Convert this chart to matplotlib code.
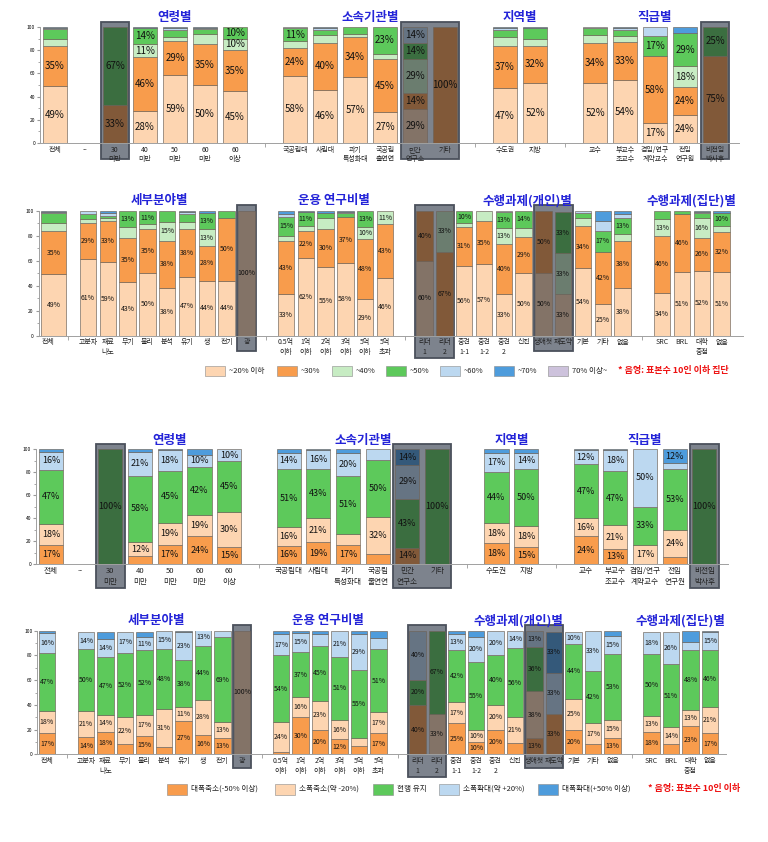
import numpy as np
import matplotlib.pyplot as plt
from matplotlib.patches import Rectangle
from matplotlib.colors import to_rgb

plt.rcParams['font.family'] = ['Noto Sans CJK KR', 'DejaVu Sans']

W, H = 768, 842

# ---------------- categories ----------------
group_labels = ['전체', '--', '30\n미만', '40\n미만', '50\n미만', '60\n미만', '60\n이상', '',
                '국공립대', '사립대', '과기\n특성화대', '국공립\n출연연', '민간\n연구소', '기타', '',
                '수도권', '지방', '', '교수', '부교수\n조교수', '겸임/연구\n계약교수', '전임\n연구원', '비전임\n박사후']
field_labels = ['전체', '', '고분자', '재료\n나노', '무기', '물리', '분석', '유기', '생', '전기', '광', '',
                '0.5억\n이하', '1억\n이하', '2억\n이하', '3억\n이하', '5억\n이하', '5억\n초과', '',
                '리더\n1', '리더\n2', '중견\n1-1', '중견\n1-2', '중견\n2', '신진', '생애첫', '재도약',
                '기본', '기타', '없음', '', 'SRC', 'BRL', '대학\n중점', '없음']

top_names = ['~20% 이하', '~30%', '~40%', '~50%', '~60%', '~70%', '70% 이상~']
bot_names = ['대폭축소(-50% 이상)', '소폭축소(약 -20%)', '현행 유지', '소폭확대(약 +20%)', '대폭확대(+50% 이상)']

# ---------------- row 1 : 비율 분포 (그룹별) ----------------
r1_20 = [49, 0, 0, 28, 59, 50, 45, 0, 58, 46, 57, 27, 29, 0, 0, 47, 52, 0, 52, 54, 17, 24, 0]
r1_30 = [35, 0, 33, 46, 29, 35, 35, 0, 24, 40, 34, 45, 14, 100, 0, 37, 32, 0, 34, 33, 58, 24, 75]
r1_40 = [6, 0, 0, 11, 3, 9, 10, 0, 6, 7, 3, 5, 29, 0, 0, 7, 6, 0, 7, 5, 0, 18, 0]
r1_50 = [8, 0, 67, 14, 6, 4, 10, 0, 11, 4, 6, 23, 14, 0, 0, 6, 9, 0, 6, 5, 17, 29, 25]
r1_60 = [1, 0, 0, 0, 2, 1, 0, 0, 1, 2, 0, 0, 14, 0, 0, 2, 0, 0, 1, 2, 8, 0, 0]
r1_70 = [1, 0, 0, 1, 1, 1, 0, 0, 0, 1, 0, 0, 0, 0, 0, 1, 1, 0, 0, 1, 0, 5, 0]
r1_70p = [0] * 23

# ---------------- row 2 : 비율 분포 (분야/과제별) ----------------
r2_20 = [49, 0, 61, 59, 43, 50, 38, 47, 44, 44, 100, 0, 33, 62, 55, 58, 29, 46, 0,
         60, 0, 56, 57, 33, 50, 50, 33, 54, 25, 38, 0, 34, 51, 52, 51]
r2_30 = [35, 0, 29, 33, 35, 35, 38, 38, 28, 50, 0, 0, 43, 22, 30, 37, 48, 43, 0,
         40, 67, 31, 35, 40, 29, 50, 0, 34, 42, 38, 0, 46, 46, 26, 32]
r2_40 = [6, 0, 3, 2, 9, 4, 15, 6, 13, 0, 0, 0, 4, 4, 9, 0, 10, 11, 0,
         0, 33, 3, 8, 13, 7, 0, 33, 6, 0, 5, 0, 13, 0, 16, 5]
r2_50 = [8, 0, 4, 2, 13, 11, 9, 6, 13, 6, 0, 0, 15, 11, 4, 3, 13, 0, 0,
         0, 0, 10, 0, 13, 14, 0, 33, 4, 17, 13, 0, 7, 3, 4, 10]
r2_60 = [1, 0, 3, 2, 0, 0, 0, 2, 0, 0, 0, 0, 2, 0, 0, 1, 0, 0, 0,
         0, 0, 0, 0, 1, 0, 0, 0, 2, 8, 3, 0, 0, 0, 1, 0]
r2_70 = [1, 0, 0, 2, 0, 0, 0, 1, 2, 0, 0, 0, 3, 1, 2, 1, 0, 0, 0,
         0, 0, 0, 0, 0, 0, 0, 0, 0, 8, 3, 0, 0, 0, 1, 2]
r2_70p = [0] * 35

# ---------------- row 3 : 증감 의견 (그룹별) ----------------
r3_dn50 = [17, 0, 0, 7, 17, 24, 15, 0, 16, 19, 17, 9, 14, 0, 0, 18, 15, 0, 24, 13, 0, 6, 0]
r3_dn20 = [18, 0, 0, 12, 19, 19, 30, 0, 16, 21, 9, 32, 0, 0, 0, 18, 18, 0, 16, 21, 17, 24, 0]
r3_keep = [47, 0, 100, 58, 45, 42, 45, 0, 51, 43, 51, 50, 43, 100, 0, 44, 50, 0, 47, 47, 33, 53, 100]
r3_up20 = [16, 0, 0, 21, 18, 10, 10, 0, 14, 16, 20, 9, 29, 0, 0, 17, 14, 0, 12, 18, 50, 5, 0]
r3_up50 = [2, 0, 0, 2, 1, 5, 0, 0, 3, 1, 3, 0, 14, 0, 0, 3, 3, 0, 1, 1, 0, 12, 0]

# ---------------- row 4 : 증감 의견 (분야/과제별) ----------------
r4_dn50 = [17, 0, 14, 18, 8, 15, 6, 27, 16, 13, 0, 0, 2, 30, 20, 12, 7, 17, 0,
           40, 0, 25, 10, 20, 9, 13, 33, 20, 8, 13, 0, 18, 8, 23, 17]
r4_dn20 = [18, 0, 21, 14, 22, 17, 31, 11, 28, 13, 100, 0, 24, 16, 23, 16, 6, 17, 0,
           0, 33, 17, 10, 20, 21, 38, 0, 25, 17, 15, 0, 13, 14, 13, 21]
r4_keep = [47, 0, 50, 47, 52, 52, 48, 38, 44, 69, 0, 0, 54, 37, 45, 51, 55, 51, 0,
           20, 67, 42, 55, 40, 56, 36, 0, 44, 42, 53, 0, 50, 51, 48, 46]
r4_up20 = [16, 0, 14, 14, 17, 11, 15, 23, 13, 5, 0, 0, 17, 15, 9, 21, 29, 9, 0,
           40, 0, 13, 20, 20, 14, 13, 33, 10, 33, 15, 0, 18, 26, 7, 15]
r4_up50 = [2, 0, 0, 6, 0, 4, 0, 1, 0, 0, 0, 0, 3, 2, 3, 0, 3, 6, 0,
           0, 0, 3, 5, 0, 0, 0, 33, 0, 0, 4, 0, 0, 0, 9, 1]

# 음영 (표본수 10인 이하)
group_shaded = [[2], [12, 13], [22]]
field_shaded = [[10], [19, 20], [25, 26]]

group_titles = [('연령별', 4), ('소속기관별', 10.5), ('지역별', 15.5), ('직급별', 20)]
field_titles = [('세부분야별', 5.6), ('운용 연구비별', 14.4), ('수행과제(개인)별', 24.2), ('수행과제(집단)별', 32.5)]

peach, orange, lgreen, green = '#fdd5b1', '#f89c4c', '#c7ecc3', '#5dc95b'
lblue, blue, lav = '#bcd8f0', '#4e9cdc', '#cdc2dc'
top_colors = [peach, orange, lgreen, green, lblue, blue, lav]
bot_colors = [orange, peach, green, lblue, blue]


def dark(c):
    r = np.array(to_rgb(c)) * 0.45 + np.array(to_rgb('#1f232a')) * 0.55
    return tuple(r)


fig = plt.figure(figsize=(W / 100, H / 100), dpi=100)


def panel(x0, step, y0, y100, labels, series, colors, shaded, titles,
          width, lab_fs, tick_fs, box_bot, first=None, right=0.3, lsp=1.25):
    n = len(labels)
    lo, hi = -0.5, n - 0.5 + right
    l, r = x0 + lo * step, x0 + hi * step
    ax = fig.add_axes([l / W, 1 - y0 / H, (r - l) / W, (y0 - y100) / H])
    ax.set_xlim(lo, hi)
    ax.set_ylim(0, 100)

    x = np.arange(n, dtype=float)
    w = np.full(n, width)
    if first:
        x[0], w[0] = first
    sh = {i for g in shaded for i in g}

    # 음영 박스
    for g in shaded:
        nl = max(labels[i].count('\n') + 1 for i in g)
        b = box_bot[nl]
        ax.add_patch(Rectangle((g[0] - 0.48, b), g[-1] - g[0] + 0.96, 104.5 - b,
                               facecolor='#7d838d', edgecolor='#4b515c', lw=1.3,
                               clip_on=False, zorder=1))

    bottom = np.zeros(n)
    for vals, c in zip(series, colors):
        vals = np.array(vals, float)
        idx = np.nonzero(vals)[0]
        cols = [dark(c) if i in sh else c for i in idx]
        ax.bar(x[idx], vals[idx], w[idx], bottom=bottom[idx], color=cols,
               edgecolor='#6d6258', linewidth=0.45, zorder=2)
        for i in idx:
            if vals[i] >= 10:
                ax.text(x[i], bottom[i] + vals[i] / 2, f'{vals[i]:.0f}%', ha='center', va='center',
                        fontsize=lab_fs, color='#111111', zorder=4)
        bottom += vals

    for t, xc in titles:
        ax.text(xc, 108, t, ha='center', va='center', fontsize=9, fontweight='bold',
                color='#2424d8', zorder=5, clip_on=False)

    major = [i for i, s in enumerate(labels) if s != '']
    ax.set_xticks(major, [labels[i] for i in major], fontsize=tick_fs, linespacing=lsp)
    ax.set_xticks([i for i, s in enumerate(labels) if s == ''], minor=True)
    ax.tick_params(axis='x', which='major', length=0, pad=2, colors='#222222')
    ax.tick_params(axis='x', which='minor', length=3, color='#999999')
    ax.set_yticks(range(0, 101, 20))
    ax.set_yticks(range(10, 100, 20), minor=True)
    ax.tick_params(axis='y', which='major', labelsize=3.5, length=2, pad=1.5, color='#999999')
    ax.tick_params(axis='y', which='minor', length=1.2, color='#999999')
    for s in ['top', 'right']:
        ax.spines[s].set_visible(False)
    for s in ['left', 'bottom']:
        ax.spines[s].set_color('#a0a0a0')
        ax.spines[s].set_linewidth(0.7)
    return ax


panel(55, 30, 143, 27, group_labels, [r1_20, r1_30, r1_40, r1_50, r1_60, r1_70, r1_70p],
      top_colors, group_shaded, group_titles, 0.8, 7, 5, {1: -12, 2: -14})
panel(48.4, 19.8, 335.7, 210.7, field_labels, [r2_20, r2_30, r2_40, r2_50, r2_60, r2_70, r2_70p],
      top_colors, field_shaded, field_titles, 0.83, 5, 5, {1: -12, 2: -18},
      first=(0.26, 1.26), right=0.6)
panel(51, 29.7, 564, 449.3, group_labels, [r3_dn50, r3_dn20, r3_keep, r3_up20, r3_up50],
      bot_colors, group_shaded, group_titles, 0.81, 6.5, 5.5, {1: -14, 2: -21}, lsp=1.5)
panel(47, 19.5, 754.3, 630.7, field_labels, [r4_dn50, r4_dn20, r4_keep, r4_up20, r4_up50],
      bot_colors, field_shaded, field_titles, 0.85, 5, 5, {1: -11, 2: -18.5})


# ---------------- legends ----------------
def legend(xs, yc, names, colors, ph, note, note_x):
    for px, name, c in zip(xs, names, colors):
        fig.add_artist(Rectangle((px / W, 1 - (yc + ph / 2) / H), 20 / W, ph / H,
                                 transform=fig.transFigure, facecolor=c,
                                 edgecolor='#8a8a8a', lw=0.4))
        fig.text((px + 24) / W, 1 - yc / H, name, ha='left', va='center', fontsize=5.5, color='#222222')
    fig.text(note_x / W, 1 - yc / H, note, ha='left', va='center', fontsize=6.5,
             color='#ee1111', fontweight='bold', style='italic')


legend([205, 277, 332, 386, 440, 494, 548], 371, top_names, top_colors, 9,
       '* 음영: 표본수 10인 이하 집단', 618)
legend([167, 275, 373, 439, 538], 789, bot_names, bot_colors, 11,
       '* 음영: 표본수 10인 이하', 648)

fig.savefig('out.png', dpi=100)
